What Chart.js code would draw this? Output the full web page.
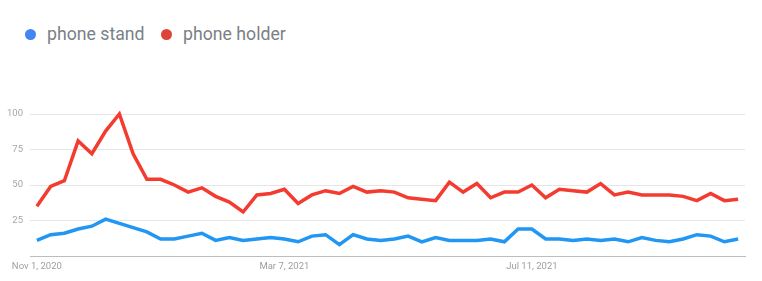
<!DOCTYPE html>
<html>
<head>
<meta charset="utf-8">
<script src="https://cdn.jsdelivr.net/npm/chart.js@4.4.0/dist/chart.umd.min.js"></script>
<style>
  html, body { margin: 0; padding: 0; background: #fff; }
  body { width: 762px; height: 281px; position: relative; overflow: hidden; font-family: Roboto, "Noto Sans", sans-serif; }
  #c { position: absolute; left: 0; top: 0; }
  .lg { position: absolute; top: 23px; height: 22px; display: flex; align-items: center; font-size: 17.7px; color: #7a7f86; white-space: nowrap; }
  .dot { width: 11px; height: 11px; border-radius: 50%; margin-right: 11px; }
</style>
</head>
<body>
<div class="lg" style="left:25px;"><span class="dot" style="background:#4285F4"></span><span>phone stand</span></div>
<div class="lg" style="left:161px;"><span class="dot" style="background:#DB4437"></span><span>phone holder</span></div>
<canvas id="c" width="762" height="281"></canvas>
<script>
const categories = [
  "Nov 1, 2020","Nov 8, 2020","Nov 15, 2020","Nov 22, 2020","Nov 29, 2020",
  "Dec 6, 2020","Dec 13, 2020","Dec 20, 2020","Dec 27, 2020",
  "Jan 3, 2021","Jan 10, 2021","Jan 17, 2021","Jan 24, 2021","Jan 31, 2021",
  "Feb 7, 2021","Feb 14, 2021","Feb 21, 2021","Feb 28, 2021",
  "Mar 7, 2021","Mar 14, 2021","Mar 21, 2021","Mar 28, 2021",
  "Apr 4, 2021","Apr 11, 2021","Apr 18, 2021","Apr 25, 2021",
  "May 2, 2021","May 9, 2021","May 16, 2021","May 23, 2021","May 30, 2021",
  "Jun 6, 2021","Jun 13, 2021","Jun 20, 2021","Jun 27, 2021",
  "Jul 4, 2021","Jul 11, 2021","Jul 18, 2021","Jul 25, 2021",
  "Aug 1, 2021","Aug 8, 2021","Aug 15, 2021","Aug 22, 2021","Aug 29, 2021",
  "Sep 5, 2021","Sep 12, 2021","Sep 19, 2021","Sep 26, 2021",
  "Oct 3, 2021","Oct 10, 2021","Oct 17, 2021","Oct 24, 2021"
];
const phoneStand = [
  11,15,16,19,21,26,23,20,17,12,12,14,16,11,13,11,12,13,12,10,
  14,15,8,15,12,11,12,14,10,13,11,11,11,12,10,19,19,12,12,11,
  12,11,12,10,13,11,10,12,15,14,10,12
];
const phoneHolder = [
  35,49,53,81,72,88,100,72,54,54,50,45,48,42,38,31,43,44,47,37,
  43,46,44,49,45,46,45,41,40,39,52,45,51,41,45,45,50,41,47,46,
  45,51,43,45,43,43,43,42,39,44,39,40
];
const xTickLabels = ["Nov 1, 2020", "Mar 7, 2021", "Jul 11, 2021"];
const yTicks = [0, 25, 50, 75, 100];

const font = { family: "Roboto, 'Noto Sans', sans-serif", size: 9.5 };

new Chart(document.getElementById('c'), {
  type: 'line',
  data: {
    labels: categories,
    datasets: [
      { label: 'phone stand', data: phoneStand, borderColor: '#2196F3', backgroundColor: '#4285F4',
        borderWidth: 3.5, pointRadius: 0, tension: 0, clip: false },
      { label: 'phone holder', data: phoneHolder, borderColor: '#F33B30', backgroundColor: '#DB4437',
        borderWidth: 3.5, pointRadius: 0, tension: 0, clip: false }
    ]
  },
  options: {
    responsive: false,
    animation: false,
    layout: { padding: { top: 114, right: 17, left: 0, bottom: 0 } },
    plugins: { legend: { display: false }, tooltip: { enabled: false } },
    scales: {
      x: {
        type: 'category',
        offset: true,
        grid: { display: false, drawTicks: false },
        border: { display: true, color: '#bdbdbd', width: 1 },
        ticks: {
          autoSkip: false, maxRotation: 0, padding: 5, color: '#9e9e9e', font: font,
          callback: function(v, i) { const l = categories[i]; return xTickLabels.includes(l) ? l : ''; }
        },
        afterFit: function(s) { s.height = 25; }
      },
      y: {
        min: 0, max: 100,
        afterBuildTicks: function(s) { s.ticks = yTicks.map(v => ({ value: v })); },
        grid: { color: '#e6e6e6', drawTicks: false, lineWidth: 1 },
        border: { display: false },
        ticks: {
          padding: 7, color: '#a6a6a6', font: font,
          callback: function(v) { return v === 0 ? '' : String(v); }
        },
        afterFit: function(s) { s.width = 30; }
      }
    }
  }
});
</script>
</body>
</html>
